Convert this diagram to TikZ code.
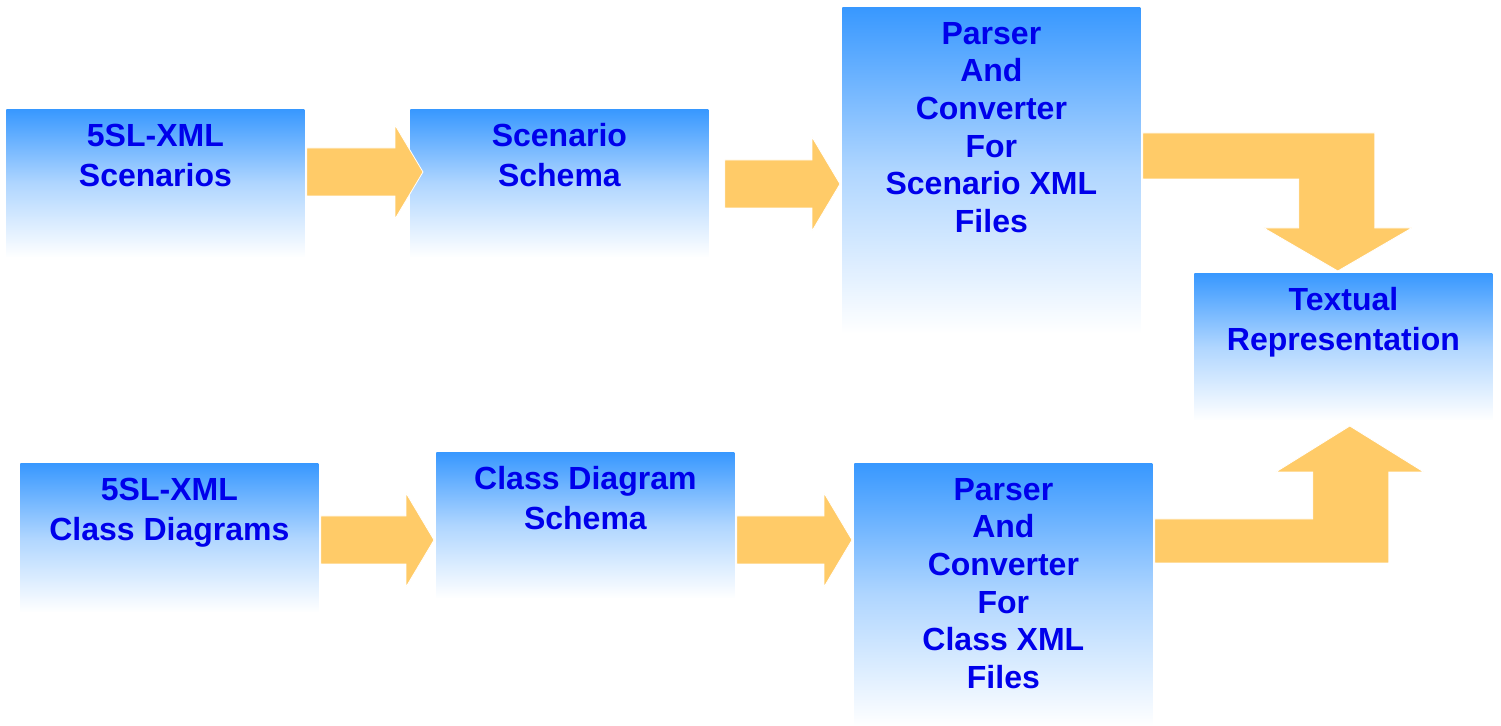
\documentclass[tikz,border=0pt]{standalone}
\usepackage{fontspec}
\setmainfont{Liberation Sans}
\usetikzlibrary{positioning}
\usetikzlibrary{calc}

\definecolor{boxblue}{RGB}{56,152,255}
\definecolor{arrowfill}{RGB}{255,203,104}
\definecolor{textblue}{RGB}{0,0,235}

\begin{document}
\begin{tikzpicture}[x=0.5pt,y=-0.5pt,
    stage/.style={top color=boxblue, bottom color=white, middle color=boxblue!40,
      anchor=north west, inner sep=0pt, minimum width=149pt, align=center,
      text=textblue, font=\fontsize{16}{20}\bfseries\selectfont, text height=38.5pt},
    parser/.style={stage, font=\fontsize{16}{18.8}\bfseries\selectfont, text height=112.5pt},
    fatarrow/.style={fill=arrowfill, draw=white, line width=0.4pt,
      to path={let \p1=(\tikztostart), \p2=(\tikztotarget) in
        (\x1,\y1+12pt) -- (\x2-14pt,\y1+12pt) -- (\x2-14pt,\y1+23.5pt) -- (\x2,\y1)
        -- (\x2-14pt,\y1-23.5pt) -- (\x2-14pt,\y1-12pt) -- (\x1,\y1-12pt) -- cycle}}]
  \useasboundingbox (0,0) rectangle (1501,726);

  % scenario row
  \node[stage, text depth=35.5pt] (scen) at (6,109) {5SL-XML\\Scenarios};
  \node[stage, text depth=35.5pt] (scenschema) at (410,109) {Scenario\\Schema};
  \node[parser, text depth=50.5pt] (scenparser) at (842,7) {Parser\\And\\Converter\\For\\Scenario XML\\Files};

  % class row
  \node[stage, text depth=36pt] (cls) at (20,463) {5SL-XML\\Class Diagrams};
  \node[stage, text depth=34.5pt] (clsschema) at (436,452) {Class Diagram\\Schema};
  \node[parser, text depth=19pt] (clsparser) at (854,463) {Parser\\And\\Converter\\For\\Class XML\\Files};

  \node[stage, text depth=35pt] (textrep) at (1194,273) {Textual\\Representation};

  % arrows
  \path[fatarrow] ([shift={(2,63)}]scen.north east) to ([shift={(13,63)}]scenschema.north west);
  \path[fatarrow] ([shift={(16,75)}]scenschema.north east) to ([shift={(-2,177)}]scenparser.north west);
  \path[fatarrow] ([shift={(2,77)}]cls.north east) to ([shift={(-2,88)}]clsschema.north west);
  \path[fatarrow] ([shift={(2,88)}]clsschema.north east) to ([shift={(-2,77)}]clsparser.north west);

  \draw[fill=arrowfill, draw=white, line width=0.4pt] ([shift={(2,126)}]scenparser.north east)
    -- ++(232,0) -- ++(0,95) -- ++(37,0) -- ++(-74,43) -- ++(-74,-43) -- ++(35,0)
    -- ++(0,-49) -- ++(-156,0) -- cycle;
  \draw[fill=arrowfill, draw=white, line width=0.4pt] ([shift={(2,56)}]clsparser.north east)
    -- ++(158,0) -- ++(0,-47) -- ++(-37,0) -- ++(74,-46) -- ++(74,46) -- ++(-35,0)
    -- ++(0,91) -- ++(-234,0) -- cycle;
\end{tikzpicture}
\end{document}
